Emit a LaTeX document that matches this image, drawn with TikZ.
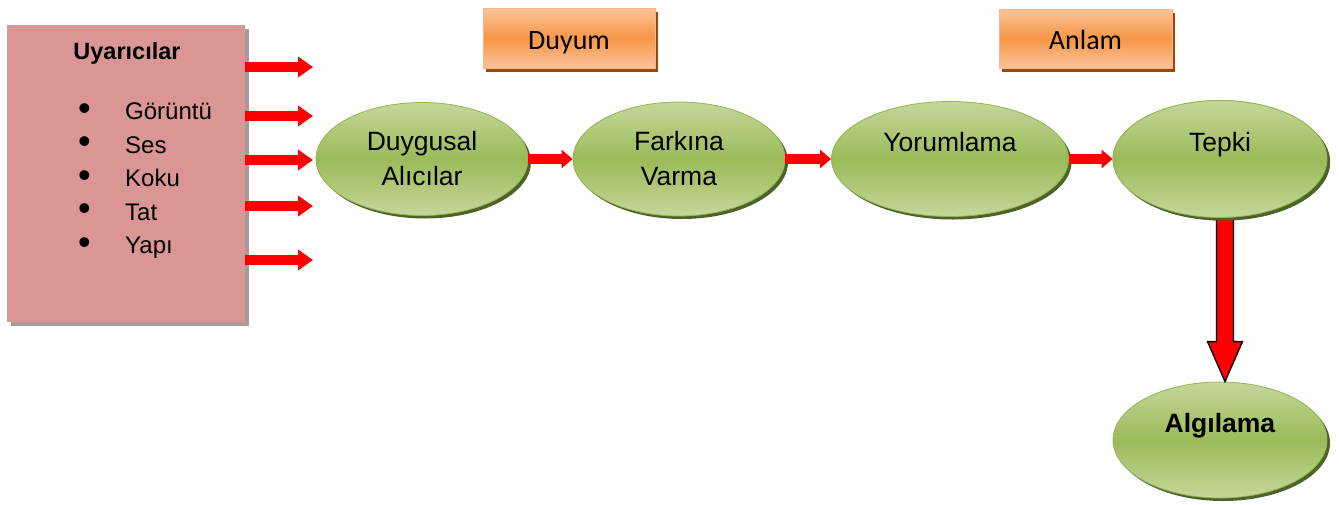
\documentclass[tikz,border=0pt]{standalone}
\usepackage{fontspec}
\setmainfont{Liberation Sans}
\newfontfamily\labelfont{Carlito}
\usetikzlibrary{shapes.geometric,shadows,arrows.meta,calc}
\definecolor{pinkfill}{HTML}{D99694}
\definecolor{pinkshadow}{HTML}{A89A9A}
\definecolor{greenlight}{HTML}{C4D79B}
\definecolor{greenmid}{HTML}{9BBB59}
\definecolor{greenedge}{HTML}{93B452}
\definecolor{greenshadow}{HTML}{4F6228}
\definecolor{orangelight}{HTML}{FBC49A}
\definecolor{orangemid}{HTML}{F79646}
\definecolor{orangeedge}{HTML}{F9B585}
\definecolor{orangeshadow}{HTML}{984807}
\begin{document}
\begin{tikzpicture}[x=1pt,y=-1pt,
  stimbox/.style={rectangle, fill=pinkfill, inner sep=0pt,
    general shadow={fill=pinkshadow, shadow xshift=4pt, shadow yshift=-4pt}},
  stage/.style={ellipse, inner sep=0pt, draw=greenedge, line width=0.8pt,
    top color=greenlight, bottom color=greenlight, middle color=greenmid,
    general shadow={fill=greenshadow, shadow xshift=3pt, shadow yshift=-3pt},
    align=center, font=\fontsize{26.5}{35}\selectfont,
    execute at begin node={\rule{0pt}{24pt}}},
  phase/.style={rectangle, inner sep=0pt, draw=orangeedge, line width=1pt,
    top color=orangelight, bottom color=orangelight, middle color=orangemid,
    general shadow={fill=orangeshadow, shadow xshift=3pt, shadow yshift=-4pt},
    text height=22pt, text depth=0pt, font=\labelfont\fontsize{28}{32}\selectfont},
  item/.style={anchor=base west, inner sep=0pt, font=\fontsize{24}{28}\selectfont},
  inarrow/.style={draw=red, line width=10pt, -{Triangle[length=15pt,width=20pt]}},
  steparrow/.style={draw=red, line width=10pt, -{Triangle[length=11pt,width=18pt]}},
  bigarrow/.style={fill=red, draw=black, line width=1.3pt, line join=miter,
    to path={let \p1=(\tikztostart), \p2=(\tikztotarget) in
      (\x1-8.5pt,\y1) -- (\x1+8.5pt,\y1) -- (\x1+8.5pt,\y2+40pt)
      -- (\x1+17.5pt,\y2+40pt) -- (\x1,\y2) -- (\x1-17.5pt,\y2+40pt)
      -- (\x1-8.5pt,\y2+40pt) -- cycle}}
]
\useasboundingbox (0,0) rectangle (1339,504);

% stimuli box with its list
\node[stimbox, minimum width=238pt, minimum height=297pt] (uy) at (126,173.5) {};
\node[anchor=base, inner sep=0pt, font=\bfseries\fontsize{23.5}{28}\selectfont]
  (uytitle) at (127,59) {Uyarıcılar};
\foreach \name/\txt/\yb in {i1/Görüntü/119.5, i2/Ses/153, i3/Koku/186.5,
                             i4/Tat/220, i5/Yapı/253.5}{
  \node[item] (\name) at (78,\yb)
    {\makebox[47pt][l]{\raisebox{-0.9pt}{\scalebox{1.5}{\textbullet}}}\txt};
}

% phase labels
\node[phase, minimum width=172pt, minimum height=60pt] (duyum) at (569,38) {Duyum};
\node[phase, minimum width=173pt, minimum height=59pt] (anlam) at (1085.5,38.5) {Anlam};

% arrow from response to perception (drawn first, stages cover its ends)
\node[stage, minimum width=214pt, minimum height=116pt] (alg) at (1220,440)
  {\textbf{Algılama}\\\mbox{}};
\node[stage, minimum width=214pt, minimum height=117pt] (tep) at (1220,159)
  {Tepki\\\mbox{}};
\draw[bigarrow] ([xshift=5pt]tep.south) to ([xshift=5pt]alg.north);
\node[stage, minimum width=214pt, minimum height=117pt] at (tep) {Tepki\\\mbox{}};

% processing stages
\node[stage, minimum width=212pt, minimum height=113pt] (duy) at (422,159)
  {Duygusal\\Alıcılar};
\node[stage, minimum width=212pt, minimum height=114pt] (fark) at (679,159)
  {Farkına\\Varma};
\node[stage, minimum width=237pt, minimum height=115pt] (yor) at (950,159)
  {Yorumlama\\\mbox{}};

% incoming stimulus arrows
\coordinate (s1) at (313,67);
\coordinate (s2) at (313,116);
\coordinate (s3) at (313,160);
\coordinate (s4) at (313,206);
\coordinate (s5) at (313,260);
\foreach \s in {s1,s2,s3,s4,s5}{
  \draw[inarrow] (uy.east |- \s) -- (\s);
}

% arrows between the stages
\draw[steparrow] (duy.east) -- (fark.west);
\draw[steparrow] (fark.east) -- (yor.west);
\draw[steparrow] (yor.east) -- (tep.west);
\end{tikzpicture}
\end{document}
